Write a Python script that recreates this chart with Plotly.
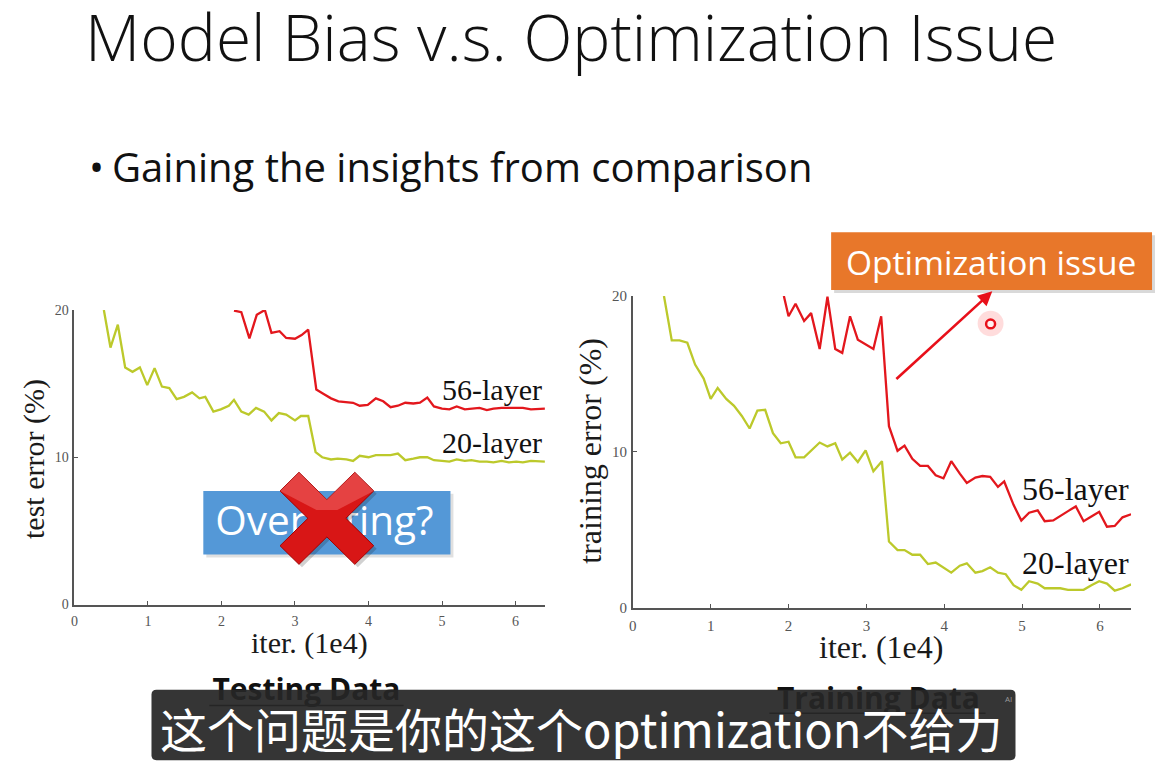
import plotly.graph_objects as go

W, H = 1159, 781

# ---------------- data ----------------
x_ticks = [0, 1, 2, 3, 4, 5, 6]
y_ticks = [0, 10, 20]

# Testing data (test error %)
x_test_20 = [0.40,0.49,0.59,0.69,0.79,0.89,0.99,1.09,1.19,1.29,1.39,1.49,1.60,1.70,1.78,1.89,1.99,
             2.10,2.17,2.27,2.37,2.47,2.58,2.68,2.78,2.88,3.00,3.08,3.18,3.28,3.37,3.49,3.58,3.70,
             3.79,3.88,4.00,4.10,4.21,4.30,4.40,4.50,4.61,4.70,4.80,4.89,5.00,5.10,5.20,5.31,5.40,
             5.51,5.61,5.70,5.81,5.91,6.01,6.10,6.21,6.31,6.40]
y_test_20 = [20.0,17.45,19.0,16.1,15.8,16.1,14.9,16.05,14.8,14.7,13.95,14.1,14.4,14.0,14.1,13.1,13.25,
             13.5,13.9,13.1,12.9,13.35,13.1,12.5,13.0,12.9,12.5,12.8,12.8,10.35,10.0,9.85,9.9,9.85,
             9.75,10.1,10.0,10.15,10.15,10.15,10.25,9.8,9.9,10.0,10.0,9.8,9.75,9.7,9.85,9.75,9.8,
             9.7,9.7,9.65,9.75,9.65,9.7,9.65,9.75,9.7,9.7]
x_test_56 = [2.17,2.27,2.38,2.48,2.59,2.68,2.79,2.88,3.00,3.09,3.18,3.29,3.39,3.49,3.59,3.70,3.79,
             3.88,3.99,4.10,4.20,4.30,4.40,4.50,4.61,4.70,4.80,4.89,5.00,5.10,5.20,5.31,5.40,5.51,
             5.61,5.70,5.81,5.91,6.01,6.10,6.21,6.31,6.40]
y_test_56 = [19.96,19.85,18.07,19.67,20.0,18.45,18.56,18.1,18.05,18.3,18.67,14.6,14.3,14.0,13.8,
             13.73,13.7,13.5,13.55,14.0,13.8,13.4,13.5,13.7,13.65,13.7,14.05,13.45,13.3,13.25,
             13.45,13.25,13.3,13.35,13.2,13.3,13.35,13.35,13.35,13.35,13.25,13.3,13.3]

# Training data (training error %)
x_train_20 = [0.40,0.50,0.60,0.70,0.80,0.91,1.00,1.09,1.20,1.30,1.40,1.50,1.60,1.70,1.80,1.90,2.00,
              2.09,2.20,2.29,2.40,2.50,2.60,2.69,2.79,2.89,2.99,3.09,3.20,3.29,3.40,3.49,3.59,3.69,
              3.79,3.89,3.99,4.09,4.20,4.29,4.40,4.49,4.59,4.69,4.79,4.89,4.99,5.09,5.20,5.29,5.40,
              5.49,5.59,5.69,5.79,5.89,5.99,6.09,6.19,6.29,6.40]
y_train_20 = [20.0,17.15,17.15,17.0,15.6,14.7,13.4,14.1,13.4,12.95,12.3,11.5,12.65,12.7,11.2,10.55,
              10.65,9.65,9.65,10.1,10.6,10.35,10.55,9.5,9.95,9.35,10.1,8.75,9.4,4.25,3.7,3.7,3.4,
              3.4,2.8,2.9,2.6,2.25,2.7,2.85,2.25,2.35,2.6,2.25,2.15,1.45,1.15,1.7,1.55,1.25,1.25,
              1.25,1.15,1.15,1.15,1.45,1.7,1.55,1.1,1.25,1.5]
x_train_56 = [1.94,2.00,2.09,2.20,2.29,2.40,2.50,2.60,2.69,2.79,2.89,2.99,3.09,3.19,3.29,3.40,3.49,
              3.59,3.69,3.79,3.89,3.99,4.09,4.20,4.29,4.40,4.49,4.59,4.69,4.77,4.89,4.99,5.09,5.20,
              5.29,5.40,5.49,5.59,5.69,5.79,5.89,5.99,6.09,6.19,6.29,6.40]
y_train_56 = [20.0,18.7,19.5,18.4,18.9,16.6,19.95,16.6,16.35,18.7,17.2,16.9,16.6,18.7,11.65,10.07,
              10.4,9.55,9.1,9.1,8.5,8.3,9.4,8.6,8.0,8.35,8.45,8.4,7.75,8.1,6.6,5.6,6.1,6.25,5.55,
              5.6,5.9,6.2,6.5,5.55,5.85,6.15,5.2,5.25,5.8,6.0]

title_text = "Model Bias v.s. Optimization Issue"
bullet_text = "Gaining the insights from comparison"
subtitle_text = "这个问题是你的这个optimization不给力"

# ---------------- helpers ----------------
def px(v):
    return v / W

def py(v):
    return 1 - v / H

RED = "#e3171d"
GREEN = "#bcc92b"
SERIF = "Liberation Serif"
SANS = "Open Sans"
TICK = "#555555"

fig = go.Figure()

# blue "Overfitting?" box (below traces)
shapes = [
    dict(type="rect", xref="paper", yref="paper", layer="below",
         x0=px(203), x1=px(451), y0=py(561), y1=py(496),
         fillcolor="rgba(0,0,0,0.12)", line=dict(width=0)),
    dict(type="rect", xref="paper", yref="paper", layer="below",
         x0=px(200), x1=px(448), y0=py(558), y1=py(493),
         fillcolor="#5498d7", line=dict(width=0)),
]

# curves
fig.add_trace(go.Scatter(x=x_test_20, y=y_test_20, mode="lines", xaxis="x", yaxis="y",
                         line=dict(color=GREEN, width=2.3), hoverinfo="skip"))
fig.add_trace(go.Scatter(x=x_test_56, y=y_test_56, mode="lines", xaxis="x", yaxis="y",
                         line=dict(color=RED, width=2.3), hoverinfo="skip"))
fig.add_trace(go.Scatter(x=x_train_20, y=y_train_20, mode="lines", xaxis="x2", yaxis="y2",
                         line=dict(color=GREEN, width=2.3), hoverinfo="skip"))
fig.add_trace(go.Scatter(x=x_train_56, y=y_train_56, mode="lines", xaxis="x2", yaxis="y2",
                         line=dict(color=RED, width=2.3), hoverinfo="skip"))

# text that must sit beneath overlay shapes (pixel-coordinate overlay axis)
fig.add_trace(go.Scatter(x=[321.5], y=[528], mode="text", text=["Overfitting?"],
                         xaxis="x3", yaxis="y3", textposition="middle center",
                         textfont=dict(family=SANS, size=40.5, color="white"), hoverinfo="skip"))
fig.add_trace(go.Scatter(x=[303.5, 877.5], y=[699, 708], mode="text",
                         text=["Testing Data", "Training Data"],
                         xaxis="x3", yaxis="y3", textposition="middle center",
                         textfont=dict(family=SANS, size=30, color="#111111", weight="bold"),
                         hoverinfo="skip"))

# underlines beneath the subtitle
shapes += [
    dict(type="line", xref="paper", yref="paper", x0=px(206), x1=px(401), y0=py(712), y1=py(712),
         line=dict(color="#222", width=1.5)),
    dict(type="line", xref="paper", yref="paper", x0=px(768), x1=px(985), y0=py(720), y1=py(720),
         line=dict(color="#222", width=1.5)),
]

# red X over "Overfitting?"
cx, cy, a, d = 324, 521, 47, 19
pts = [(-a, -a + d), (-a + d, -a), (0, -d), (a - d, -a), (a, -a + d), (d, 0),
       (a, a - d), (a - d, a), (0, d), (-a + d, a), (-a, a - d), (-d, 0)]
path = "M " + " L ".join(f"{px(cx + dx):.5f},{py(cy + dy):.5f}" for dx, dy in pts) + " Z"
shadow = "M " + " L ".join(f"{px(cx + dx + 3):.5f},{py(cy + dy + 3):.5f}" for dx, dy in pts) + " Z"
# highlight on the upper part of the X
hi_pts = [(-a, -a + d), (-a + d, -a), (0, -d), (a - d, -a), (a, -a + d), (d * 0.55, -d * 0.45),
          (-d * 0.55, -d * 0.45)]
hi_path = "M " + " L ".join(f"{px(cx + dx):.5f},{py(cy + dy):.5f}" for dx, dy in hi_pts) + " Z"
shapes += [
    dict(type="path", xref="paper", yref="paper", path=shadow,
         fillcolor="rgba(0,0,0,0.18)", line=dict(width=0)),
    dict(type="path", xref="paper", yref="paper", path=path,
         fillcolor="#d81616", line=dict(color="#a30000", width=1)),
    dict(type="path", xref="paper", yref="paper", path=hi_path,
         fillcolor="rgba(255,150,150,0.35)", line=dict(width=0)),
]

# orange box
shapes += [
    dict(type="rect", xref="paper", yref="paper", x0=px(833), x1=px(1155), y0=py(291), y1=py(232),
         fillcolor="rgba(0,0,0,0.15)", line=dict(width=0)),
    dict(type="rect", xref="paper", yref="paper", x0=px(830), x1=px(1152), y0=py(288), y1=py(229),
         fillcolor="#e8772a", line=dict(width=0)),
]

# cursor glow
shapes += [
    dict(type="circle", xref="paper", yref="paper", x0=px(977), x1=px(1003), y0=py(335), y1=py(309),
         fillcolor="rgba(255,60,60,0.18)", line=dict(width=0)),
    dict(type="circle", xref="paper", yref="paper", x0=px(985.5), x1=px(994.5), y0=py(327), y1=py(318),
         fillcolor="rgba(255,255,255,0.6)", line=dict(color="#e8101a", width=2.5)),
]

# subtitle box
r = 5
x0s, x1s, y0s, y1s = 148, 1015, 696, 768
sub_path = (f"M {px(x0s + r)},{py(y0s)} L {px(x1s - r)},{py(y0s)} Q {px(x1s)},{py(y0s)} {px(x1s)},{py(y0s + r)} "
            f"L {px(x1s)},{py(y1s - r)} Q {px(x1s)},{py(y1s)} {px(x1s - r)},{py(y1s)} "
            f"L {px(x0s + r)},{py(y1s)} Q {px(x0s)},{py(y1s)} {px(x0s)},{py(y1s - r)} "
            f"L {px(x0s)},{py(y0s + r)} Q {px(x0s)},{py(y0s)} {px(x0s + r)},{py(y0s)} Z")
shapes.append(dict(type="path", xref="paper", yref="paper", path=sub_path,
                   fillcolor="rgba(38,38,38,0.93)", line=dict(width=0)))

ann = []
def text(x, y, s, size, color="#111", family=SANS, xanchor="center", yanchor="middle", angle=0, weight=None):
    f = dict(family=family, size=size, color=color)
    if weight is not None:
        f["weight"] = weight
    ann.append(dict(x=px(x), y=py(y), xref="paper", yref="paper", text=s, showarrow=False,
                    font=f, xanchor=xanchor, yanchor=yanchor, textangle=angle))

text(79, 29, title_text, 64, "#111", SANS, xanchor="left", weight=300)
text(83, 162, "•", 40, "#111", SANS, xanchor="left")
text(106, 162, bullet_text, 40, "#111", SANS, xanchor="left")

# axis titles
text(29.5, 460, "test error (%)", 30, "#1a1a1a", SERIF, angle=-90)
text(306.7, 648, "iter. (1e4)", 30, "#1a1a1a", SERIF)
text(588, 452, "training error (%)", 32, "#1a1a1a", SERIF, angle=-90)
text(880, 652, "iter. (1e4)", 32, "#1a1a1a", SERIF)

# series labels
text(542, 389, "56-layer", 30, "#111", SERIF, xanchor="right")
text(542, 444, "20-layer", 30, "#111", SERIF, xanchor="right")
text(1131, 491, "56-layer", 32, "#111", SERIF, xanchor="right")
text(1131, 567, "20-layer", 32, "#111", SERIF, xanchor="right")

# orange box text
text(990, 259, "Optimization issue", 33.5, "white", SANS)

# subtitle
text(579, 735, subtitle_text, 47, "white", "Noto Sans CJK SC")
text(1008, 705, "AI", 8, "#999", SANS)

# arrow
ann.append(dict(x=px(991.7), y=py(289.3), xref="paper", yref="paper", text="", showarrow=True,
                ax=-97.4, ay=89, axref="pixel", ayref="pixel", arrowhead=2, arrowsize=1.1,
                arrowwidth=2.6, arrowcolor="#e8101a", standoff=0))

axis_common = dict(showgrid=False, zeroline=False, showline=True, linecolor="#555",
                   linewidth=1.6, ticks="inside", ticklen=4, tickwidth=1.2, tickcolor="#555",
                   fixedrange=True)

fig.update_layout(
    width=W, height=H, margin=dict(l=0, r=0, t=0, b=0),
    paper_bgcolor="white", plot_bgcolor="rgba(0,0,0,0)", showlegend=False,
    xaxis=dict(domain=[px(70.7), px(542.8)], range=[0, 6.4], anchor="y", tickvals=x_ticks,
               tickfont=dict(family=SERIF, size=14, color=TICK), ticklabelstandoff=3, **axis_common),
    yaxis=dict(domain=[py(609), py(308.3)], range=[0, 20], anchor="x", tickvals=y_ticks,
               tickfont=dict(family=SERIF, size=14, color=TICK), ticklabelstandoff=1, **axis_common),
    xaxis2=dict(domain=[px(631), px(1131)], range=[0, 6.4], anchor="y2", tickvals=x_ticks,
                tickfont=dict(family=SERIF, size=15, color=TICK), ticklabelstandoff=3, **axis_common),
    yaxis2=dict(domain=[py(612.3), py(294)], range=[0, 20], anchor="x2", tickvals=y_ticks,
                tickfont=dict(family=SERIF, size=15, color=TICK), ticklabelstandoff=1, **axis_common),
    xaxis3=dict(domain=[0, 1], range=[0, W], visible=False, fixedrange=True, anchor="y3"),
    yaxis3=dict(domain=[0, 1], range=[H, 0], visible=False, fixedrange=True, anchor="x3"),
    shapes=shapes, annotations=ann,
)

fig.write_html("out.html", config={"displayModeBar": False},
               post_script="document.body.style.margin='0px';")
